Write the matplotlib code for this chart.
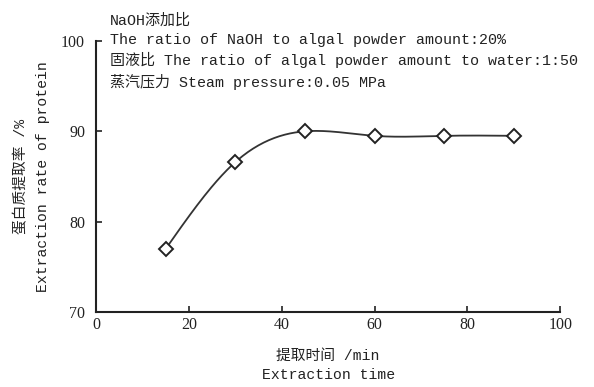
import matplotlib
matplotlib.use('Agg')
import matplotlib.pyplot as plt
import numpy as np

# extraction time (min) and protein extraction rate (%)
time_min = [15, 30, 45, 60, 75, 90]
rate = [77.0, 86.6, 90.0, 89.5, 89.5, 89.5]
xticks = [0, 20, 40, 60, 80, 100]
yticks = [70, 80, 90, 100]

mono = ['Liberation Mono', 'Noto Sans CJK SC']
plt.rcParams['font.family'] = ['Liberation Serif', 'Noto Sans CJK SC']


def natural_spline(x, y, n=200):
    # natural cubic spline through the points, for a smooth connecting line
    x = np.asarray(x, float)
    y = np.asarray(y, float)
    k = len(x)
    h = np.diff(x)
    A = np.zeros((k, k))
    b = np.zeros(k)
    A[0, 0] = A[-1, -1] = 1
    for i in range(1, k - 1):
        A[i, i - 1] = h[i - 1]
        A[i, i] = 2 * (h[i - 1] + h[i])
        A[i, i + 1] = h[i]
        b[i] = 6 * ((y[i + 1] - y[i]) / h[i] - (y[i] - y[i - 1]) / h[i - 1])
    m = np.linalg.solve(A, b)
    xs = np.linspace(x[0], x[-1], n)
    idx = np.clip(np.searchsorted(x, xs) - 1, 0, k - 2)
    t0 = xs - x[idx]
    t1 = x[idx + 1] - xs
    hi = h[idx]
    ys = (m[idx] * t1 ** 3 + m[idx + 1] * t0 ** 3) / (6 * hi) \
        + (y[idx] / hi - m[idx] * hi / 6) * t1 \
        + (y[idx + 1] / hi - m[idx + 1] * hi / 6) * t0
    return xs, ys


fig = plt.figure(figsize=(5.94, 3.87), dpi=100)
ax = fig.add_axes([0.162, 0.194, 0.781, 0.70])

xs, ys = natural_spline(time_min, rate)
ax.plot(xs, ys, color='#333333', lw=1.3)
ax.plot(time_min, rate, ls='none', marker='D', ms=7, mfc='white',
        mec='#222222', mew=1.4)

ax.set_xlim(0, 100)
ax.set_ylim(70, 100)
ax.set_xticks(xticks)
ax.set_yticks(yticks)
ax.tick_params(direction='in', length=4, width=1.2, labelsize=11.5,
               colors='#222222')
ax.tick_params(axis='y', pad=8)
ax.tick_params(axis='x', pad=4)
for s in ['top', 'right']:
    ax.spines[s].set_visible(False)
for s in ['left', 'bottom']:
    ax.spines[s].set_linewidth(1.5)
    ax.spines[s].set_color('#222222')

ax.set_xlabel('提取时间 /min\nExtraction time', fontsize=10.6,
              family=mono, linespacing=1.5, color='#222222')
ax.xaxis.set_label_coords(0.5, -0.135)
ax.set_ylabel('蛋白质提取率 /%\nExtraction rate of protein', fontsize=10.6,
              family=mono, linespacing=1.7, color='#222222')
ax.yaxis.set_label_coords(-0.1, 0.5)

note = ('NaOH添加比\n'
        'The ratio of NaOH to algal powder amount:20%\n'
        '固液比 The ratio of algal powder amount to water:1:50\n'
        '蒸汽压力 Steam pressure:0.05 MPa')
fig.text(0.185, 0.965, note, fontsize=10.8, family=mono, va='top',
         ha='left', linespacing=1.42, color='#222222')

fig.savefig('out.png', dpi=100)
